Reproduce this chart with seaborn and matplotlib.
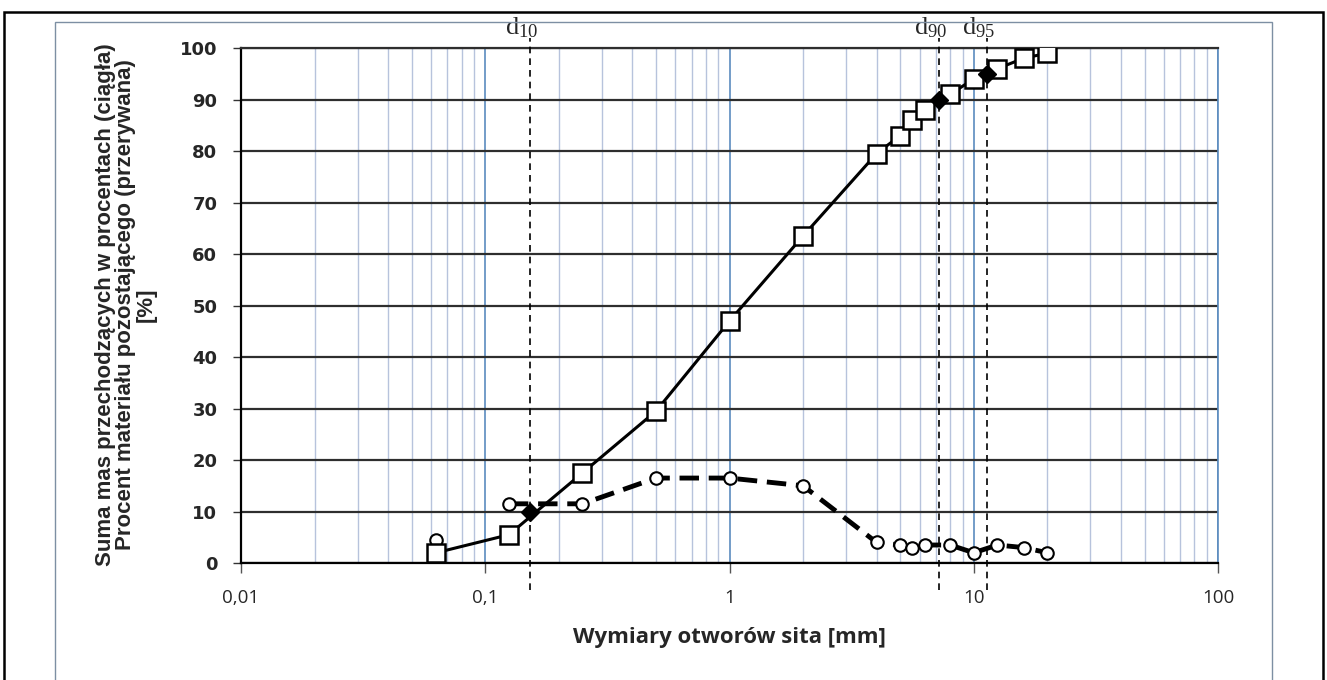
import numpy as np
import pandas as pd
import matplotlib
matplotlib.use('Agg')
import matplotlib.pyplot as plt
from matplotlib.patches import Rectangle
from matplotlib.ticker import FixedLocator, LogLocator, NullFormatter
import seaborn as sns

# sieve analysis data
sieve_mm = [0.063, 0.125, 0.25, 0.5, 1, 2, 4, 5, 5.6, 6.3, 8, 10, 12.5, 16, 20]
passing_pct = [2, 5.5, 17.5, 29.5, 47, 63.5, 79.5, 83, 86, 88, 91, 94, 96, 98, 99]
retained_pct = [4.5, 11.5, 11.5, 16.5, 16.5, 15, 4, 3.5, 3, 3.5, 3.5, 2, 3.5, 3, 2]

d_names = ['10', '90', '95']
d_sizes = [0.153, 7.2, 11.3]
d_pct = [10, 90, 95]

x_ticks = [0.01, 0.1, 1, 10, 100]
x_ticklabels = ['0,01', '0,1', '1', '10', '100']

sns.set_style('white')
plt.rcParams['font.family'] = ['Liberation Sans', 'DejaVu Sans']

fig = plt.figure(figsize=(13.27, 6.8), dpi=100)
ax = fig.add_axes([0.1816, 0.172, 0.7363, 0.7574])

df_pass = pd.DataFrame({'size': sieve_mm, 'pct': passing_pct})
df_ret = pd.DataFrame({'size': sieve_mm[1:], 'pct': retained_pct[1:]})

ax.set_xscale('log')
ax.set_xlim(0.01, 100)
ax.set_ylim(0, 100)

# grid
ax.xaxis.set_major_locator(FixedLocator(x_ticks))
ax.xaxis.set_minor_locator(LogLocator(base=10, subs=np.arange(2, 10)))
ax.xaxis.set_minor_formatter(NullFormatter())
ax.set_yticks(range(0, 101, 10))
ax.grid(which='minor', axis='x', color='#b7c3dc', lw=1.0)
ax.grid(which='major', axis='x', color='#5b8bbf', lw=1.2)
ax.grid(which='major', axis='y', color='#2e2e2e', lw=1.6)
ax.set_axisbelow(True)

# retained (dashed)
sns.lineplot(data=df_ret, x='size', y='pct', ax=ax, color='black', lw=3.5,
             marker='o', markersize=9, markerfacecolor='white',
             markeredgecolor='black', markeredgewidth=1.5, zorder=3)
ax.lines[-1].set_dashes((4, 2))
ax.plot(sieve_mm[0], retained_pct[0], marker='o', markersize=9, ls='none',
        markerfacecolor='white', markeredgecolor='black', markeredgewidth=1.5, zorder=3)

# passing (solid)
sns.lineplot(data=df_pass, x='size', y='pct', ax=ax, color='black', lw=2.2,
             marker='s', markersize=13, markerfacecolor='white',
             markeredgecolor='black', markeredgewidth=1.8, zorder=4)

# characteristic diameters
ax.plot(d_sizes, d_pct, ls='none', marker='D', markersize=9, color='black', zorder=5)
for name, xs in zip(d_names, d_sizes):
    ax.axvline(xs, ymin=-0.052, ymax=1.02, color='black', lw=1.2,
               dashes=(4, 3), clip_on=False, zorder=6)
    ax.annotate(r'$\mathregular{d_{%s}}$' % name, xy=(xs, 1),
                xycoords=('data', 'axes fraction'), xytext=(-6, 6),
                textcoords='offset points', ha='center', va='bottom',
                fontsize=19, family=['Liberation Serif', 'DejaVu Serif'])

ax.set_xticklabels(x_ticklabels, family=['Open Sans', 'DejaVu Sans'], fontsize=13.5)
for lab in ax.get_yticklabels():
    lab.set_family(['DejaVu Sans'])
    lab.set_fontweight('bold')
    lab.set_fontsize(13)
ax.tick_params(axis='x', which='major', direction='out', length=7, width=1,
               color='#555555', pad=12, bottom=True)
ax.tick_params(axis='x', which='minor', length=0)
ax.tick_params(axis='y', direction='out', length=6, width=1, color='#333333',
               pad=11, left=True)

for s in ['left', 'bottom']:
    ax.spines[s].set_color('black')
    ax.spines[s].set_linewidth(1.6)
ax.spines['top'].set_color('#2e2e2e')
ax.spines['top'].set_linewidth(1.6)
ax.spines['right'].set_color('#5b8bbf')
ax.spines['right'].set_linewidth(1.2)

ax.set_xlabel('Wymiary otworów sita [mm]', fontsize=16, fontweight='bold',
              family=['Open Sans', 'DejaVu Sans'], labelpad=14)
ax.set_ylabel('')

fig.text(126 / 1327, 1 - 305 / 680,
         'Suma mas przechodzących w procentach (ciągła)\n'
         'Procent materiału pozostającego (przerywana)\n[%]',
         rotation=90, ha='center', va='center', multialignment='center',
         fontsize=16, fontweight='bold', linespacing=0.98)

# chart frames
fig.patches.append(Rectangle((4 / 1327, -0.05), 1319 / 1327, 1.05 - 12 / 680,
                             transform=fig.transFigure, fill=False,
                             edgecolor='black', lw=1.8))
fig.patches.append(Rectangle((55 / 1327, -0.05), 1217 / 1327, 1.05 - 22 / 680,
                             transform=fig.transFigure, fill=False,
                             edgecolor='#7d8fa3', lw=1.0))

fig.savefig('out.png', dpi=100)
